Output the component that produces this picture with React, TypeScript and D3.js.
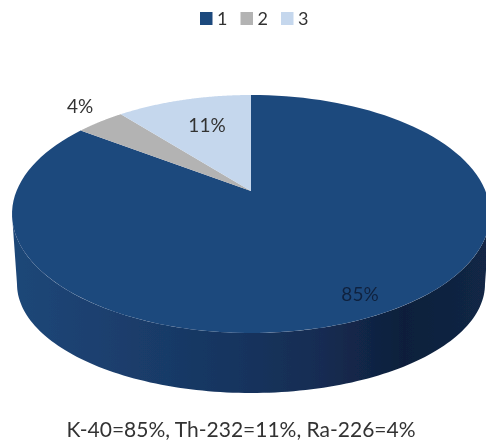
import * as d3 from "d3";

const legendLabels = ["1", "2", "3"];
const sliceValues = [85, 4, 11];
const sliceLabels = ["85%", "4%", "11%"];
const sliceColors = ["#1f497d", "#b3b3b3", "#c5d7ed"];
const sideStops: [number, string][] = [
  [0, "#1f4778"],
  [0.2, "#1b3f6e"],
  [0.45, "#173560"],
  [0.65, "#142c52"],
  [0.82, "#0f1f3b"],
  [1, "#122746"],
];
const caption = "K-40=85%, Th-232=11%, Ra-226=4%";

const W = 486;
const H = 442;
const FONT = "Lato, 'Open Sans', sans-serif";

// top face: ellipse seen in perspective, so the pie centre sits above the ellipse centre
const cx = 251;
const cy = 214;
const rx = 239;
const ry = 119;
const tilt = -0.193;

const project = ( a: number ): [number, number] =>
{
  const u = Math.sin( a );
  const v = -Math.cos( a );
  const d = 1 + tilt * v;
  return [
    cx + rx * Math.sqrt( 1 - tilt * tilt ) * u / d,
    cy + ry * ( v + tilt ) / d,
  ];
};

// lower rim of the side wall
const lowerCx = 251;
const lowerCy = 284;
const lowerRx = 234;
const lowerRy = 109;

const line = d3.line();
const pie = d3.pie<number>().sort( null )( sliceValues );

const sweep = ( a0: number, a1: number ) =>
  d3.range( 0, 121 ).map( ( i ) => a0 + ( a1 - a0 ) * i / 120 );

// side wall runs round the front, from the right extreme to the left extreme
const frontTop = sweep( Math.PI / 2, Math.PI * 1.5 ).map( ( b ) =>
  [ cx + rx * Math.sin( b ), cy - ry * Math.cos( b ) ] as [number, number] );
const frontBottom = sweep( Math.PI * 1.5, Math.PI / 2 ).map( ( b ) =>
  [ lowerCx + lowerRx * Math.sin( b ), lowerCy - lowerRy * Math.cos( b ) ] as [number, number] );
const sidePath = line( [ ...frontTop, ...frontBottom ] ) + "Z";

const legendX = d3.scalePoint<string>().domain( legendLabels ).range( [ 200, 281 ] );
const labelPos = [ [ 360, 301 ], [ 80, 113 ], [ 207, 132 ] ];

// pie centre on the top face (the projected circle centre)
const centre: [number, number] = [ cx, cy + ry * tilt ];

export default function App ()
{
  return (
    <svg
      width={ W }
      height={ H }
      viewBox={ `0 0 ${ W } ${ H }` }
      style={ { position: "absolute", left: 0, top: 0, background: "#fff" } }
    >
      <defs>
        <linearGradient id="side" x1="0" x2="1" y1="0" y2="0">
          { sideStops.map( ( [ o, c ] ) => <stop key={ o } offset={ o } stopColor={ c } /> ) }
        </linearGradient>
        <filter id="soft" x="0" y="0" width="100%" height="100%">
          <feGaussianBlur stdDeviation="0.45" />
        </filter>
      </defs>

      <g filter="url(#soft)">
        { legendLabels.map( ( l, i ) => (
          <g key={ l }>
            <rect x={ legendX( l )! } y={ 12 } width={ 12.5 } height={ 13 } fill={ sliceColors[ i ] } />
            <text x={ legendX( l )! + 17 } y={ 25 } fontFamily={ FONT } fontSize={ 18 } fill="#333">{ l }</text>
          </g>
        ) ) }

        <path d={ sidePath } fill="url(#side)" />

        { pie.map( ( s, i ) =>
        {
          const pts = sweep( s.startAngle, s.endAngle ).map( project );
          return <path key={ i } d={ line( [ centre, ...pts ] ) + "Z" } fill={ sliceColors[ i ] } />;
        } ) }

        { sliceLabels.map( ( l, i ) => (
          <text
            key={ l }
            x={ labelPos[ i ][ 0 ] }
            y={ labelPos[ i ][ 1 ] }
            textAnchor="middle"
            fontFamily={ FONT }
            fontSize={ 19 }
            fill={ i === 0 ? "#10233f" : "#333" }
          >{ l }</text>
        ) ) }

        <text x={ 241 } y={ 437 } textAnchor="middle" fontFamily={ FONT } fontSize={ 21 } fill="#333">{ caption }</text>
      </g>
    </svg>
  );
}
